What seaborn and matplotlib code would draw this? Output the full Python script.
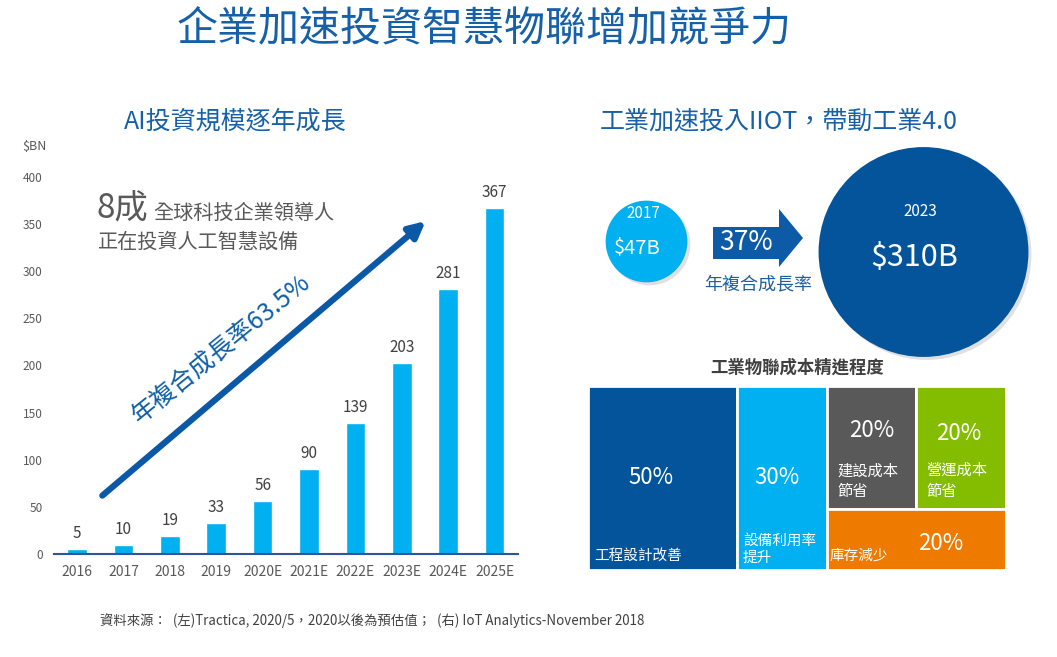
import numpy as np
import pandas as pd
import seaborn as sns
import matplotlib.pyplot as plt
from matplotlib.patches import Circle, Polygon, Rectangle

# ---- data ----
years = ["2016", "2017", "2018", "2019", "2020E", "2021E", "2022E", "2023E", "2024E", "2025E"]
ai_invest = [5, 10, 19, 33, 56, 90, 139, 203, 281, 367]

iiot_years = ["2017", "2023"]
iiot_values = [47, 310]
iiot_labels = ["$47B", "$310B"]
iiot_cagr = "37%"

cost_values = ["50%", "30%", "20%", "20%", "20%"]
cost_labels = ["工程設計改善", "設備利用率\n提升", "建設成本\n節省", "營運成本\n節省", "庫存減少"]

# ---- style ----
sns.set_style("white")
plt.rcParams['font.family'] = ['Noto Sans CJK TC', 'DejaVu Sans']

DARK = "#03549B"
LIGHT = "#00B0F0"
TITLE = "#1560A8"
GREY = "#595959"
TEXT = "#404040"

fig = plt.figure(figsize=(10.57, 6.57), dpi=100)

# ---- left: bar chart ----
ax = fig.add_axes([0.0509, 0.1568, 0.439, 0.6027])
df = pd.DataFrame({"year": years, "value": ai_invest})
sns.barplot(data=df, x="year", y="value", color=LIGHT, saturation=1, width=0.42, ax=ax)
ax.bar_label(ax.containers[0], padding=5, fontsize=11, color=TEXT)
ax.set_xlim(-0.5, 9.5)
ax.set_ylim(0, 420)
ax.set_yticks(range(0, 401, 50))
ax.set_xlabel("")
ax.set_ylabel("")
sns.despine(ax=ax, left=True)
ax.spines["bottom"].set_color("#2F5597")
ax.spines["bottom"].set_linewidth(1.5)
ax.tick_params(axis="y", length=0, pad=8, labelsize=8.5, labelcolor=GREY)
ax.tick_params(axis="x", length=0, pad=8, labelsize=10, labelcolor=GREY)
ax.patch.set_visible(False)

# growth arrow + annotations
ax.annotate("", xy=(7.56, 355), xytext=(0.5, 60),
            arrowprops=dict(arrowstyle="-|>", color="#0A58A6", lw=4.5, mutation_scale=24))
ax.text(3.1, 218, "年複合成長率63.5%", rotation=39, rotation_mode="anchor",
        ha="center", va="center", fontsize=18, color="#0E5FA8")

# ---- overlay in pixel units ----
ov = fig.add_axes([0, 0, 1, 1])
ov.set_xlim(0, 1057)
ov.set_ylim(657, 0)
ov.axis("off")
ov.patch.set_visible(False)

ov.text(484, 30, "企業加速投資智慧物聯增加競爭力", ha="center", va="center",
        fontsize=29.5, color=TITLE)
ov.text(235, 121, "AI投資規模逐年成長", ha="center", va="center", fontsize=18, color=TITLE)
ov.text(779, 121, "工業加速投入IIOT，帶動工業4.0", ha="center", va="center", fontsize=18, color=TITLE)
ov.text(22, 146, "$BN", ha="left", va="center", fontsize=9, color=GREY)

ov.text(97, 219, "8成", ha="left", va="baseline", fontsize=24, color=GREY)
ov.text(153, 219, "全球科技企業領導人", ha="left", va="baseline", fontsize=14.5, color=GREY)
ov.text(98, 242, "正在投資人工智慧設備", ha="left", va="center", fontsize=14.5, color=GREY)

# bubbles: area proportional to value
bub_x = [646.5, 923.5]
bub_y = [241.5, 252]
bub_col = [LIGHT, DARK]
k = 5.96
for i, v in enumerate(iiot_values):
    r = k * np.sqrt(v)
    ov.add_patch(Circle((bub_x[i] + 3, bub_y[i] + 3), r, color="#000000", alpha=0.12, lw=0))
    ov.add_patch(Circle((bub_x[i], bub_y[i]), r, color=bub_col[i], lw=0))
ov.text(643, 213, iiot_years[0], ha="center", va="center", fontsize=11, color="white")
ov.text(637, 249, iiot_labels[0], ha="center", va="center", fontsize=14.5, color="white")
ov.text(920, 212, iiot_years[1], ha="center", va="center", fontsize=11, color="white")
ov.text(914, 258, iiot_labels[1], ha="center", va="center", fontsize=22, color="white")

# block arrow
ov.add_patch(Polygon([(713, 227), (779, 227), (779, 209), (803, 238), (779, 267),
                      (779, 259), (713, 259)], closed=True, color="#0D5AA7", lw=0))
ov.text(746, 242, iiot_cagr, ha="center", va="center", fontsize=19, color="white")
ov.text(758, 284, "年複合成長率", ha="center", va="center", fontsize=13, color="#1F5FA0")

# treemap title
ov.text(797, 368, "工業物聯成本精進程度", ha="center", va="center", fontsize=12.5,
        fontweight="bold", color=TEXT)

# footnote
ov.text(100, 621, "資料來源：  (左)Tractica, 2020/5，2020以後為預估值；  (右) IoT Analytics-November 2018",
        ha="left", va="center", fontsize=9.6, color=TEXT)

# ---- treemap ----
tm = fig.add_axes([588 / 1057, 87 / 657, 418 / 1057, 184 / 657])
tm.set_xlim(0, 140)
tm.set_ylim(0, 3)
tm.axis("off")
cells = [(0, 0, 50, 3), (50, 0, 30, 3), (80, 1, 30, 2), (110, 1, 30, 2), (80, 0, 60, 1)]
cell_colors = [DARK, LIGHT, GREY, "#84BD00", "#EE7B00"]
value_pos = [(21, 1.5), (63.2, 1.5), (95, 2.28), (124, 2.22), (118, 0.44)]
label_pos = [(2, 0.23), (51.9, 0.08), (83.4, 1.14), (113.2, 1.14), (81, 0.23)]
for (x, y, w, h), c in zip(cells, cell_colors):
    tm.add_patch(Rectangle((x, y), w, h, facecolor=c, edgecolor="white", lw=2))
for (vx, vy), val in zip(value_pos, cost_values):
    tm.text(vx, vy, val, ha="center", va="center", fontsize=16, color="white")
for i, ((lx, ly), lab) in enumerate(zip(label_pos, cost_labels)):
    tm.text(lx, ly, lab, ha="left", va="bottom" if "\n" in lab else "center",
            fontsize=11 if i in (2, 3) else 10.5, color="white", linespacing=1.3)

fig.savefig("out.png", dpi=100)
